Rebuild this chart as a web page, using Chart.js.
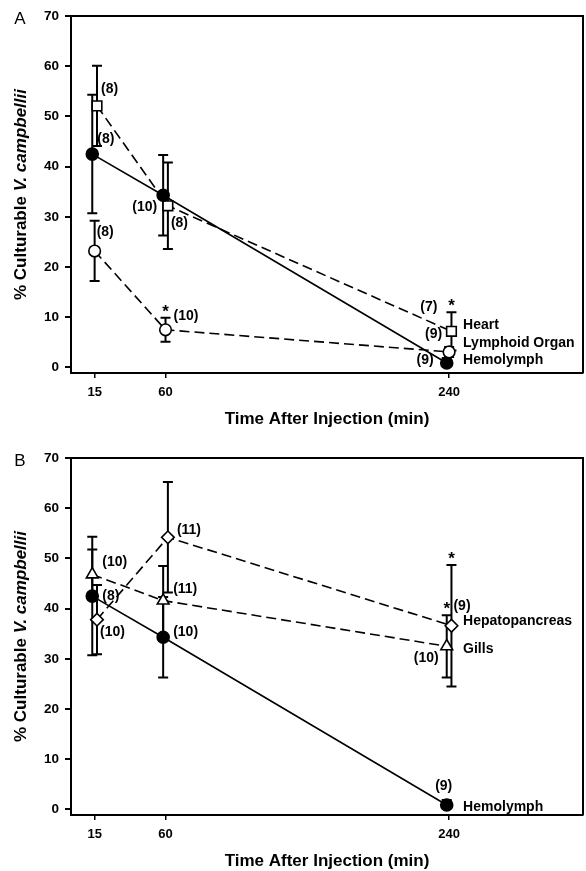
<!DOCTYPE html>
<html>
<head>
<meta charset="utf-8">
<script src="https://cdn.jsdelivr.net/npm/chart.js@4.4.1/dist/chart.umd.min.js"></script>
<style>
  html, body { margin: 0; padding: 0; background: #fff; overflow: hidden; width: 586px; height: 871px; }
  canvas { position: absolute; left: 0; }
  #panelA { top: 0; }
  #panelB { top: 442px; }
</style>
</head>
<body>
<canvas id="panelA" width="586" height="436"></canvas>
<canvas id="panelB" width="586" height="436"></canvas>
<script>
// Datos
const times = [15, 60, 240];
const timeTicks = [15, 60, 240];
const percentTicks = [0, 10, 20, 30, 40, 50, 60, 70];

const hemolymph = [42.5, 34.3, 0.9];
const hemolymphErr = [11.8, 8.0, 1.0];
const hemolymphN = [8, 10, 9];

const heart = [52.1, 32.2, 7.2];
const heartErr = [8.0, 8.6, 3.8];
const heartN = [8, 8, 7];
const heartSig = [false, false, true];

const lymphoid = [23.2, 7.5, 3.1];
const lymphoidErr = [6.0, 2.4, 1.0];
const lymphoidN = [8, 10, 9];
const lymphoidSig = [false, true, false];

const gills = [46.8, 41.6, 32.5];
const gillsErr = [5.0, 6.9, 6.2];
const gillsN = [10, 11, 10];
const gillsSig = [false, false, true];

const hepato = [37.8, 54.2, 36.6];
const hepatoErr = [6.9, 11.0, 12.1];
const hepatoN = [10, 11, 9];
const hepatoSig = [false, false, true];

// pequeño desplazamiento horizontal (min) para que no se encimen los puntos
const shiftLeft = -1.5;
const shiftRight = 1.5;

const FONT = "'Liberation Sans', Arial, sans-serif";
const labelFont = "bold 14px " + FONT;

function toPoints(values, shift) {
    return times.map((t, i) => ({ x: t + shift, y: values[i] }));
}

// Barras de error (se dibujan debajo de los marcadores)
const errorBarsPlugin = {
    id: "errorBars",
    beforeDatasetsDraw(chart) {
        const ctx = chart.ctx;
        const yScale = chart.scales.y;
        ctx.save();
        ctx.strokeStyle = "#000";
        ctx.lineWidth = 2;
        chart.data.datasets.forEach((ds, d) => {
            const meta = chart.getDatasetMeta(d);
            meta.data.forEach((pt, i) => {
                const v = ds.data[i].y;
                const e = ds.errors[i];
                const top = yScale.getPixelForValue(v + e);
                const bot = yScale.getPixelForValue(Math.max(v - e, -1));
                ctx.beginPath();
                ctx.moveTo(pt.x, top);
                ctx.lineTo(pt.x, bot);
                ctx.moveTo(pt.x - 5, top);
                ctx.lineTo(pt.x + 5, top);
                if (v - e > 0) {
                    ctx.moveTo(pt.x - 5, bot);
                    ctx.lineTo(pt.x + 5, bot);
                }
                ctx.stroke();
            });
        });
        ctx.restore();
    }
};

// Textos: (n), asteriscos y nombre de la serie
const annotationsPlugin = {
    id: "annotations",
    afterDatasetsDraw(chart) {
        const ctx = chart.ctx;
        const yScale = chart.scales.y;
        const xScale = chart.scales.x;
        ctx.save();
        ctx.fillStyle = "#000";
        chart.data.datasets.forEach((ds, d) => {
            const meta = chart.getDatasetMeta(d);
            meta.data.forEach((pt, i) => {
                const [dx, dy, align] = ds.countPos[i];
                ctx.font = labelFont;
                ctx.textAlign = align;
                ctx.textBaseline = "middle";
                ctx.fillText("(" + ds.counts[i] + ")", pt.x + dx, pt.y + dy);
                if (ds.sig && ds.sig[i]) {
                    const capY = yScale.getPixelForValue(ds.data[i].y + ds.errors[i]);
                    ctx.font = "bold 17px " + FONT;
                    ctx.textAlign = "center";
                    ctx.textBaseline = "alphabetic";
                    ctx.fillText("*", pt.x, capY - 1);
                }
            });
            const last = meta.data[meta.data.length - 1];
            ctx.font = labelFont;
            ctx.textAlign = "left";
            ctx.textBaseline = "middle";
            ctx.fillText(ds.label, xScale.getPixelForValue(times[times.length - 1]) + 14, last.y + ds.nameDy);
        });
        ctx.restore();
    }
};

// Marco, letra del panel y titulo del eje Y (con cursiva)
const framePlugin = {
    id: "frame",
    afterDraw(chart) {
        const ctx = chart.ctx;
        const a = chart.chartArea;
        ctx.save();
        ctx.strokeStyle = "#000";
        ctx.lineWidth = 2;
        ctx.beginPath();
        ctx.moveTo(a.left, a.top);
        ctx.lineTo(a.right, a.top);
        ctx.lineTo(a.right, a.bottom);
        ctx.stroke();

        ctx.fillStyle = "#000";
        ctx.font = "17px " + FONT;
        ctx.textAlign = "center";
        ctx.textBaseline = "middle";
        ctx.fillText(chart.options.plugins.frame.letter, 20, 19);

        ctx.translate(21, (a.top + a.bottom) / 2);
        ctx.rotate(-Math.PI / 2);
        const p1 = "% Culturable ";
        const p2 = "V. campbellii";
        ctx.font = "bold 17px " + FONT;
        const w1 = ctx.measureText(p1).width;
        ctx.font = "italic bold 17px " + FONT;
        const w2 = ctx.measureText(p2).width;
        const start = -(w1 + w2) / 2;
        ctx.textAlign = "left";
        ctx.font = "bold 17px " + FONT;
        ctx.fillText(p1, start, 0);
        ctx.font = "italic bold 17px " + FONT;
        ctx.fillText(p2, start + w1, 0);
        ctx.restore();
    }
};

function makePanel(canvasId, letter, datasets) {
    return new Chart(document.getElementById(canvasId), {
        type: "line",
        data: { datasets: datasets },
        options: {
            responsive: false,
            animation: false,
            devicePixelRatio: 1,
            layout: { autoPadding: false, padding: { left: 0, right: 3, top: 16, bottom: 0 } },
            plugins: {
                legend: { display: false },
                tooltip: { enabled: false },
                frame: { letter: letter }
            },
            scales: {
                x: {
                    type: "linear",
                    min: 0,
                    max: 325,
                    afterBuildTicks: s => { s.ticks = timeTicks.map(v => ({ value: v })); },
                    afterFit: s => { s.height = 63; s.paddingLeft = 0; s.paddingRight = 0; },
                    grid: { drawOnChartArea: false, drawTicks: true, tickLength: 5, color: "#000", lineWidth: 1.5 },
                    border: { display: true, color: "#000", width: 2 },
                    ticks: { color: "#000", font: { family: FONT, size: 13, weight: "bold" }, padding: 7, maxRotation: 0, autoSkip: false },
                    title: { display: true, text: "Time After Injection (min)", color: "#000",
                             font: { family: FONT, size: 17, weight: "bold" }, padding: { top: 0, bottom: 6 } }
                },
                y: {
                    type: "linear",
                    min: -1.1,
                    max: 70,
                    afterBuildTicks: s => { s.ticks = percentTicks.map(v => ({ value: v })); },
                    afterFit: s => { s.width = 71; s.paddingTop = 0; s.paddingBottom = 0; },
                    grid: { drawOnChartArea: false, drawTicks: true, tickLength: 6, color: "#000", lineWidth: 2 },
                    border: { display: true, color: "#000", width: 2 },
                    ticks: { color: "#000", font: { family: FONT, size: 13.5, weight: "bold" }, padding: 6 }
                }
            }
        },
        plugins: [errorBarsPlugin, annotationsPlugin, framePlugin]
    });
}

const solid = [];
const dashed = [10, 5];

function series(label, values, errors, counts, sig, shift, style) {
    return Object.assign({
        label: label,
        data: toPoints(values, shift),
        errors: errors,
        counts: counts,
        sig: sig,
        borderColor: "#000",
        borderWidth: 1.6,
        pointBorderColor: "#000",
        pointBorderWidth: 1.6,
        tension: 0,
        fill: false
    }, style);
}

// Panel A
makePanel("panelA", "A", [
    series("Lymphoid Organ", lymphoid, lymphoidErr, lymphoidN, lymphoidSig, 0, {
        borderDash: dashed, pointStyle: "circle", pointRadius: 5.8, pointBackgroundColor: "#fff",
        countPos: [[2, -19, "left"], [8, -14, "left"], [-7, -18, "right"]], nameDy: -9
    }),
    series("Hemolymph", hemolymph, hemolymphErr, hemolymphN, null, shiftLeft, {
        borderDash: solid, pointStyle: "circle", pointRadius: 6, pointBackgroundColor: "#000",
        countPos: [[5, -15, "left"], [-6, 12, "right"], [-13, -3, "right"]], nameDy: -3
    }),
    series("Heart", heart, heartErr, heartN, heartSig, shiftRight, {
        borderDash: dashed, pointStyle: "rect", pointRadius: 6.8, pointBackgroundColor: "#fff",
        countPos: [[4, -17, "left"], [3, 17, "left"], [-14, -24, "right"]], nameDy: -6
    })
]);

// Panel B
makePanel("panelB", "B", [
    series("Hepatopancreas", hepato, hepatoErr, hepatoN, hepatoSig, shiftRight, {
        borderDash: dashed, pointStyle: "rectRot", pointRadius: 6.3, pointBackgroundColor: "#fff",
        countPos: [[3, 12, "left"], [9, -7, "left"], [2, -20, "left"]], nameDy: -5
    }),
    series("Gills", gills, gillsErr, gillsN, gillsSig, shiftLeft, {
        borderDash: dashed, pointStyle: "triangle", pointRadius: 6.8, pointBackgroundColor: "#fff",
        countPos: [[10, -12, "left"], [10, -11, "left"], [-8, 12, "right"]], nameDy: 3
    }),
    series("Hemolymph", hemolymph, hemolymphErr, hemolymphN, null, shiftLeft, {
        borderDash: solid, pointStyle: "circle", pointRadius: 6, pointBackgroundColor: "#000",
        countPos: [[10, 0, "left"], [10, -5, "left"], [-3, -19, "center"]], nameDy: 2
    })
]);
</script>
</body>
</html>
